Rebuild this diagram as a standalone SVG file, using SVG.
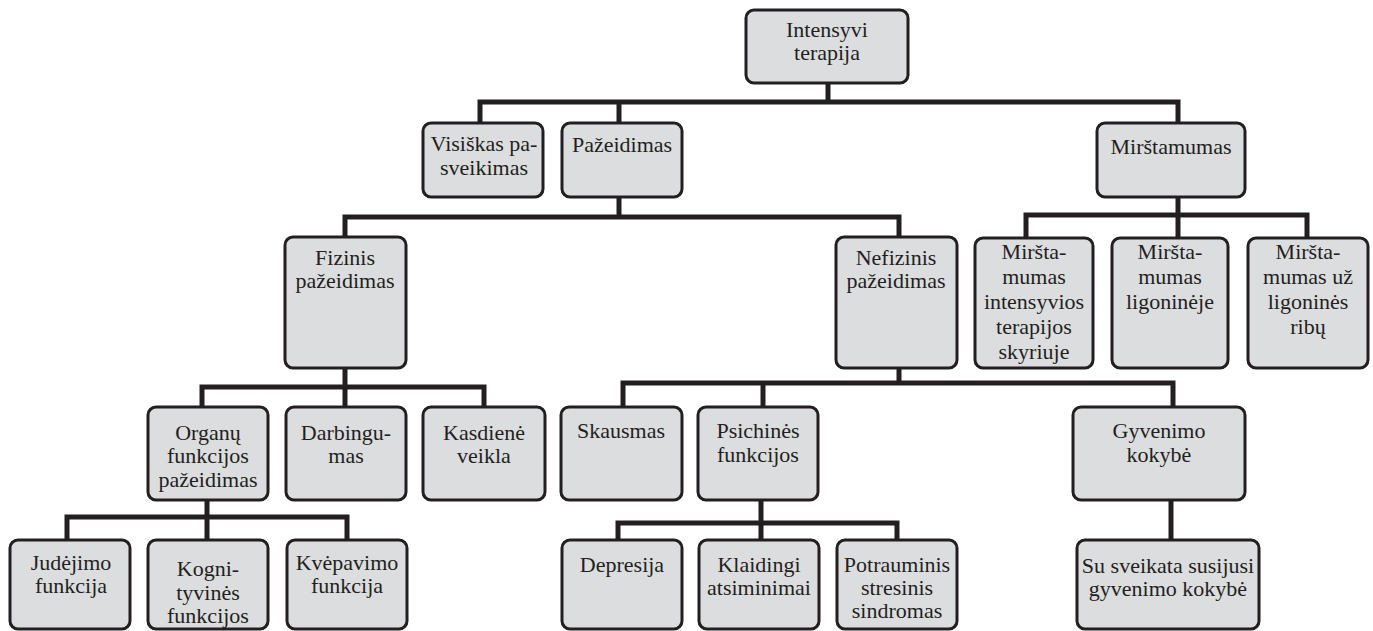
<svg xmlns="http://www.w3.org/2000/svg" width="1373" height="631" viewBox="0 0 1373 631">
<style>
.box{fill:#dcdddf;stroke:#231f20;stroke-width:3}
.t{font-family:"Liberation Serif","DejaVu Serif",serif;font-size:22px;fill:#231f20;text-anchor:middle}
.c{fill:none;stroke:#231f20;stroke-width:5;stroke-linejoin:miter;stroke-linecap:square}
</style>
<rect width="1373" height="631" fill="#ffffff"/>
<g id="connectors">
<path class="c" d="M828,84 V102 M480,121 V102 H1178 V121 M619,102 V121"/>
<path class="c" d="M619,199 V217 M345,235 V217 H899 V235"/>
<path class="c" d="M1178,199 V215 M1026,236 V215 H1307 V236 M1178,215 V236"/>
<path class="c" d="M345,369 V387 M202,405 V387 H484 V405 M345,387 V405"/>
<path class="c" d="M899,369 V383 M623,405 V383 H1173 V405 M763,383 V405"/>
<path class="c" d="M207,501 V517 M67,538 V517 H347 V538 M207,517 V538"/>
<path class="c" d="M761,501 V523 M618,538 V523 H897 V538 M761,523 V538"/>
<path class="c" d="M1171,501 V538"/>
</g>
<g id="n-root"><rect class="box" x="746" y="10" width="162" height="73" rx="8"/><text class="t" x="827" y="37">Intensyvi</text><text class="t" x="827" y="60">terapija</text></g>
<g id="n-visiskas"><rect class="box" x="423" y="123" width="120" height="74" rx="8"/><text class="t" x="484" y="151">Visiškas pa-</text><text class="t" x="484" y="175">sveikimas</text></g>
<g id="n-pazeidimas"><rect class="box" x="562" y="123" width="120" height="74" rx="8"/><text class="t" x="622" y="152">Pažeidimas</text></g>
<g id="n-mirstamumas"><rect class="box" x="1097" y="123" width="148" height="74" rx="8"/><text class="t" x="1171" y="154">Mirštamumas</text></g>
<g id="n-mirst-its"><rect class="box" x="975" y="238" width="118" height="130" rx="8"/><text class="t" x="1034" y="259">Miršta-</text><text class="t" x="1034" y="284">mumas</text><text class="t" x="1034" y="309">intensyvios</text><text class="t" x="1034" y="334">terapijos</text><text class="t" x="1034" y="359">skyriuje</text></g>
<g id="n-mirst-lig"><rect class="box" x="1112" y="238" width="116" height="130" rx="8"/><text class="t" x="1170" y="259">Miršta-</text><text class="t" x="1170" y="284">mumas</text><text class="t" x="1170" y="309">ligoninėje</text></g>
<g id="n-mirst-uz"><rect class="box" x="1248" y="238" width="120" height="130" rx="8"/><text class="t" x="1308" y="259">Miršta-</text><text class="t" x="1308" y="284">mumas už</text><text class="t" x="1308" y="309">ligoninės</text><text class="t" x="1308" y="334">ribų</text></g>
<g id="n-fizinis"><rect class="box" x="285" y="237" width="121" height="131" rx="8"/><text class="t" x="345" y="265">Fizinis</text><text class="t" x="345" y="288">pažeidimas</text></g>
<g id="n-nefizinis"><rect class="box" x="836" y="237" width="121" height="131" rx="8"/><text class="t" x="896" y="265">Nefizinis</text><text class="t" x="896" y="288">pažeidimas</text></g>
<g id="n-organu"><rect class="box" x="148" y="407" width="120" height="93" rx="8"/><text class="t" x="208" y="440">Organų</text><text class="t" x="208" y="463">funkcijos</text><text class="t" x="208" y="487">pažeidimas</text></g>
<g id="n-darbingumas"><rect class="box" x="286" y="407" width="120" height="93" rx="8"/><text class="t" x="346" y="440">Darbingu-</text><text class="t" x="346" y="463">mas</text></g>
<g id="n-kasdiene"><rect class="box" x="423" y="407" width="122" height="93" rx="8"/><text class="t" x="484" y="440">Kasdienė</text><text class="t" x="484" y="463">veikla</text></g>
<g id="n-skausmas"><rect class="box" x="561" y="407" width="121" height="93" rx="8"/><text class="t" x="621" y="438">Skausmas</text></g>
<g id="n-psichines"><rect class="box" x="698" y="407" width="120" height="93" rx="8"/><text class="t" x="758" y="438">Psichinės</text><text class="t" x="758" y="462">funkcijos</text></g>
<g id="n-gyvenimo"><rect class="box" x="1073" y="407" width="172" height="93" rx="8"/><text class="t" x="1159" y="438">Gyvenimo</text><text class="t" x="1159" y="462">kokybė</text></g>
<g id="n-judejimo"><rect class="box" x="10" y="540" width="120" height="89" rx="8"/><text class="t" x="71" y="570">Judėjimo</text><text class="t" x="71" y="593">funkcija</text></g>
<g id="n-kognityvines"><rect class="box" x="148" y="540" width="120" height="89" rx="8"/><text class="t" x="208" y="576">Kogni-</text><text class="t" x="208" y="600">tyvinės</text><text class="t" x="208" y="623">funkcijos</text></g>
<g id="n-kvepavimo"><rect class="box" x="287" y="540" width="120" height="89" rx="8"/><text class="t" x="347" y="570">Kvėpavimo</text><text class="t" x="347" y="593">funkcija</text></g>
<g id="n-depresija"><rect class="box" x="562" y="540" width="120" height="89" rx="8"/><text class="t" x="622" y="572">Depresija</text></g>
<g id="n-klaidingi"><rect class="box" x="699" y="540" width="120" height="89" rx="8"/><text class="t" x="759" y="572">Klaidingi</text><text class="t" x="759" y="595">atsiminimai</text></g>
<g id="n-potrauminis"><rect class="box" x="837" y="540" width="120" height="89" rx="8"/><text class="t" x="897" y="572">Potrauminis</text><text class="t" x="897" y="595">stresinis</text><text class="t" x="897" y="618">sindromas</text></g>
<g id="n-susijusi"><rect class="box" x="1077" y="540" width="182" height="89" rx="8"/><text class="t" x="1168" y="573">Su sveikata susijusi</text><text class="t" x="1168" y="596">gyvenimo kokybė</text></g>
</svg>
